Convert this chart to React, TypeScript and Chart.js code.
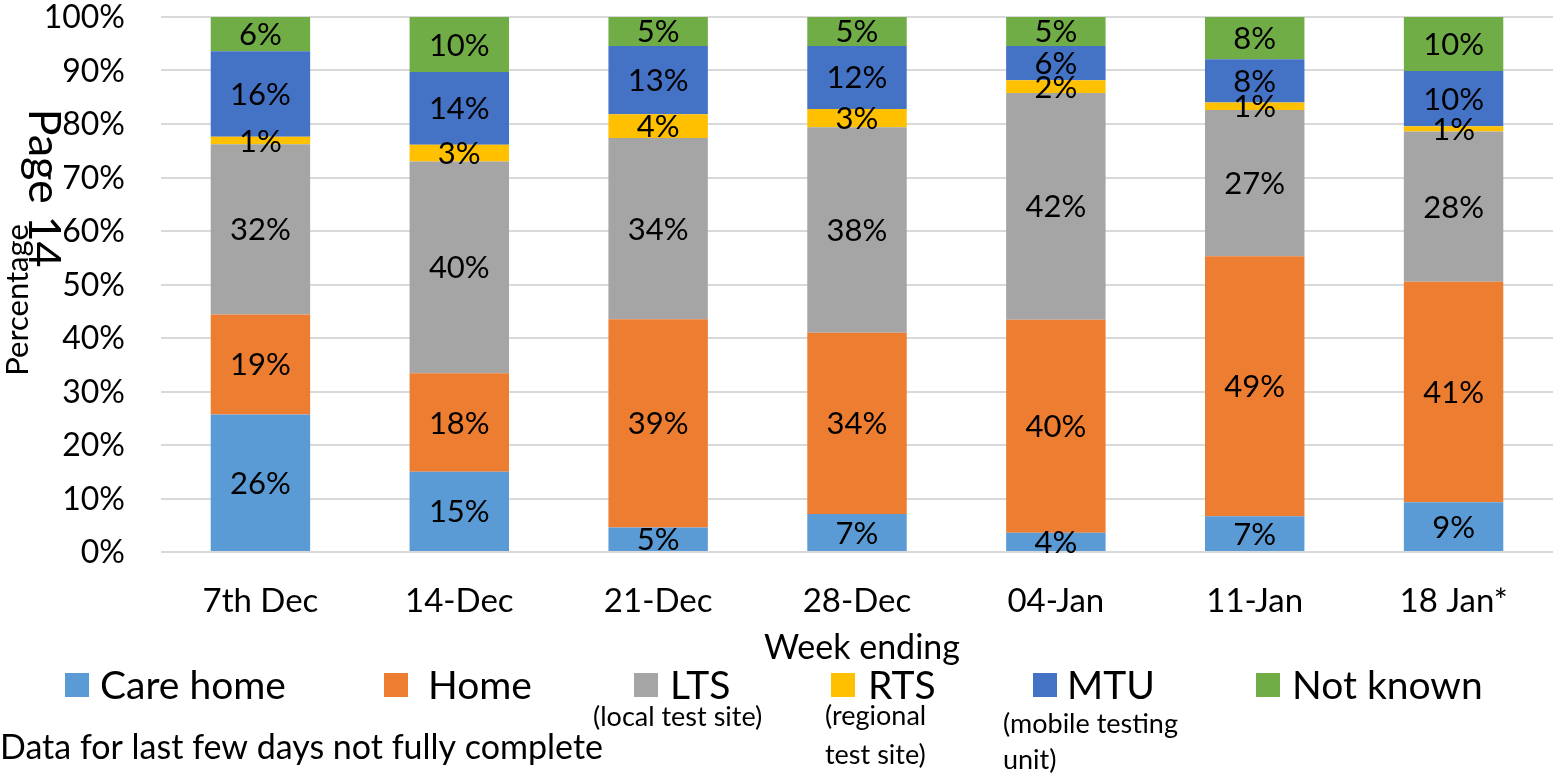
import React, { useEffect, useRef } from "react";
import { Chart, registerables } from "chart.js";

Chart.register(...registerables);

const categories = ["7th Dec", "14-Dec", "21-Dec", "28-Dec", "04-Jan", "11-Jan", "18 Jan*"];
const careHome = [25.7, 15.0, 4.6, 7.1, 3.6, 6.7, 9.3];
const home = [18.7, 18.4, 38.9, 33.9, 39.8, 48.6, 41.2];
const lts = [31.8, 39.6, 33.9, 38.4, 42.4, 27.3, 28.1];
const rts = [1.4, 3.1, 4.4, 3.4, 2.4, 1.4, 1.0];
const mtu = [16.0, 13.6, 12.8, 11.8, 6.4, 8.1, 10.3];
const notKnown = [6.4, 10.3, 5.4, 5.4, 5.4, 7.9, 10.1];
const seriesNames = ["Care home", "Home", "LTS", "RTS", "MTU", "Not known"];
const seriesNotes = [[], [], ["(local test site)"], ["(regional", "test site)"], ["(mobile testing", "unit)"], []];
const seriesColors = ["#5B9BD5", "#ED7D31", "#A5A5A5", "#FFC000", "#4472C4", "#70AD47"];
const yAxisTitle = "Percentage";
const xAxisTitle = "Week ending";
const pageText = "Page 14";
const footnote = "Data for last few days not fully complete";

const FONT = "Lato, 'Open Sans', sans-serif";

const W = 1557;
const H = 775;

export default function App() {
  const ref = useRef<HTMLCanvasElement | null>(null);

  useEffect(() => {
    const canvas = ref.current;
    if (!canvas) return;
    const seriesData = [careHome, home, lts, rts, mtu, notKnown];

    const labelPlugin = {
      id: "segLabels",
      afterDatasetsDraw(chart: any) {
        const ctx = chart.ctx;
        ctx.save();
        ctx.fillStyle = "#000";
        ctx.font = `31px ${FONT}`;
        ctx.textAlign = "center";
        ctx.textBaseline = "middle";
        chart.data.datasets.forEach((ds: any, di: number) => {
          const meta = chart.getDatasetMeta(di);
          meta.data.forEach((bar: any, i: number) => {
            const v = ds.data[i];
            const yc = (bar.y + bar.base) / 2;
            ctx.fillText(Math.round(v) + "%", bar.x, yc + 1);
          });
        });
        ctx.restore();
      },
    };

    const extrasPlugin = {
      id: "extras",
      afterDraw(chart: any) {
        const ctx = chart.ctx;
        ctx.save();
        ctx.fillStyle = "#000";
        // y tick labels (drawn here so the axis padding does not shrink the plot)
        const ys = chart.scales.y;
        ctx.font = `32px ${FONT}`;
        ctx.textAlign = "right";
        ctx.textBaseline = "middle";
        ys.ticks.forEach((t: any) => {
          ctx.fillText(t.value + "%", 125, ys.getPixelForValue(t.value) + 1);
        });
        // y-axis title
        ctx.save();
        ctx.translate(18, 300);
        ctx.rotate(-Math.PI / 2);
        ctx.font = `31px ${FONT}`;
        ctx.textAlign = "center";
        ctx.textBaseline = "middle";
        ctx.fillText(yAxisTitle, 0, 0);
        ctx.restore();
        // Page text rotated clockwise
        ctx.save();
        ctx.translate(44, 188);
        ctx.rotate(Math.PI / 2);
        ctx.font = `45px ${FONT}`;
        ctx.textAlign = "center";
        ctx.textBaseline = "middle";
        ctx.fillText(pageText, 0, 0);
        ctx.restore();
        // x-axis title
        ctx.font = `34px ${FONT}`;
        ctx.textAlign = "center";
        ctx.textBaseline = "middle";
        ctx.fillText(xAxisTitle, 862, 648);
        // legend
        const boxX = [65, 384, 634, 831, 1033, 1256];
        const textX = [100, 428, 670, 868, 1067, 1292];
        const noteX = [0, 0, 593, 825, 1003, 0];
        const noteY = [[], [], [717], [716, 755], [724, 760], []];
        for (let i = 0; i < seriesNames.length; i++) {
          ctx.fillStyle = seriesColors[i];
          ctx.fillRect(boxX[i], 673, 24, 24);
          ctx.fillStyle = "#000";
          ctx.font = `39px ${FONT}`;
          ctx.textAlign = "left";
          ctx.textBaseline = "middle";
          ctx.fillText(seriesNames[i], textX[i], 686);
          ctx.font = `27px ${FONT}`;
          seriesNotes[i].forEach((t, k) => {
            ctx.fillText(t, noteX[i], noteY[i][k]);
          });
        }
        // footnote
        ctx.font = `34px ${FONT}`;
        ctx.textAlign = "left";
        ctx.fillText(footnote, 0, 748);
        ctx.restore();
      },
    };

    const chart = new Chart(canvas, {
      type: "bar",
      data: {
        labels: categories,
        datasets: seriesNames.map((name, i) => ({
          label: name,
          data: seriesData[i],
          backgroundColor: seriesColors[i],
          borderWidth: 0,
          barPercentage: 0.5,
          categoryPercentage: 1,
        })),
      },
      options: {
        responsive: false,
        animation: false,
        devicePixelRatio: 1,
        layout: { padding: { top: 17, right: 4, left: 0, bottom: 0 } },
        plugins: {
          legend: { display: false },
          tooltip: { enabled: false },
          title: { display: false },
        },
        scales: {
          x: {
            stacked: true,
            grid: { display: false, drawTicks: false },
            border: { display: false },
            ticks: { color: "#000", font: { family: FONT, size: 33 }, padding: 30, maxRotation: 0 },
            afterFit: (s: any) => {
              s.height = H - 552;
            },
          },
          y: {
            stacked: true,
            min: 0,
            max: 100,
            grid: { color: "#D9D9D9", lineWidth: 2, drawTicks: false },
            border: { display: false },
            ticks: {
              display: false,
              stepSize: 10,
              padding: 0,
            },
            afterFit: (s: any) => {
              s.width = 161;
            },
          },
        },
      },
      plugins: [labelPlugin, extrasPlugin],
    });
    return () => chart.destroy();
  }, []);

  return (
    <div style={{ position: "absolute", left: 0, top: 0, width: W, height: H, background: "#fff" }}>
      <canvas ref={ref} width={W} height={H} style={{ width: W, height: H, display: "block" }} />
    </div>
  );
}
